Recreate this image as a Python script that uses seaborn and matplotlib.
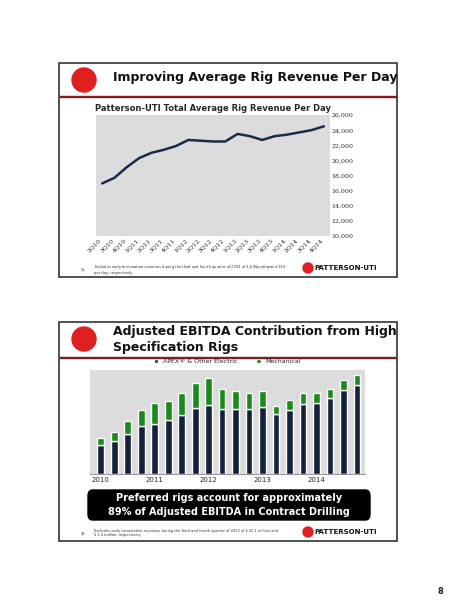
import matplotlib.pyplot as plt
import matplotlib.patches as mpatches
import seaborn as sns
import numpy as np

# Top chart: average rig revenue per day
quarters = ["2Q10", "3Q10", "4Q10", "1Q11", "2Q11", "3Q11", "4Q11", "1Q12", "2Q12", "3Q12",
            "4Q12", "1Q13", "2Q13", "3Q13", "4Q13", "1Q14", "2Q14", "3Q14", "4Q14"]
revenue = [16950, 17700, 19100, 20300, 21000, 21400, 21900, 22700, 22600, 22500,
           22500, 23500, 23200, 22700, 23200, 23400, 23700, 24000, 24500]

# Bottom chart: adjusted EBITDA (relative units)
apex = [87, 99, 119, 142, 149, 162, 177, 198, 207, 194,
        193, 193, 201, 179, 192, 210, 213, 228, 250, 264]
totals = [108, 124, 157, 192, 213, 218, 242, 272, 285, 254,
          248, 242, 246, 203, 222, 242, 242, 254, 281, 295]
mechanical = [t - a for t, a in zip(totals, apex)]
year_labels = ["2010", "2011", "2012", "2013", "2014"]

sns.set_style("white")
W, H = 453, 600
fig = plt.figure(figsize=(W / 100, H / 100), dpi=100)
fig.patch.set_facecolor("white")

def px(x, y, w, h):
    return [x / W, 1 - (y + h) / H, w / W, h / H]

def dot(x, y, r):
    fig.patches.append(mpatches.Ellipse((x / W, 1 - y / H), 2 * r / W, 2 * r / H,
                                        transform=fig.transFigure, color="#e02020"))

def slide(y0, y1, title_lines, title_y, line_y, foot, num):
    fig.patches.append(mpatches.Rectangle((59 / W, 1 - y1 / H), 338 / W, (y1 - y0) / H,
                                          transform=fig.transFigure, fill=False,
                                          edgecolor="#333333", lw=1.2))
    fig.patches.append(mpatches.Rectangle((60 / W, 1 - line_y / H), 336 / W, 1.2 / H,
                                          transform=fig.transFigure, color="#7a1f1f"))
    dot(84, title_y + 2 + (len(title_lines) - 1) * 6, 12)
    for i, t in enumerate(title_lines):
        fig.text(113 / W, 1 - (title_y + i * 17) / H, t, fontsize=9,
                 fontweight="bold", va="center", color="#111111")
    fig.text(94 / W, 1 - (y1 - 8) / H, foot, fontsize=2.6, color="#333333", va="center")
    fig.text(81 / W, 1 - (y1 - 7) / H, num, fontsize=2.6, color="#333333", va="center")
    fig.text(314 / W, 1 - (y1 - 9) / H, "PATTERSON-UTI", fontsize=5, fontweight="bold",
             va="center", color="#111111")
    dot(308, y1 - 9, 5)

slide(63, 277, ["Improving Average Rig Revenue Per Day"], 78, 97,
      "Excludes early termination revenues during the third and fourth quarter of 2013 of $ 3,600 per day and $ 130\nper day, respectively", "15")
slide(322, 541, ["Adjusted EBITDA Contribution from High", "Specification Rigs"], 331, 358,
      "Excludes early termination revenues during the third and fourth quarter of 2013 of $ 42.1 million and\n$ 2.4 million, respectively", "16")

# Top line chart
ax1 = fig.add_axes(px(96, 115, 234, 121))
ax1.set_facecolor("#dcdcdc")
sns.lineplot(x=np.arange(len(quarters)), y=revenue, ax=ax1, color="#1b2a47", lw=1.8)
ax1.set_ylim(10000, 26000)
ax1.set_yticks(range(10000, 26001, 2000))
ax1.set_yticklabels([f"{v:,}" for v in range(10000, 26001, 2000)], fontsize=4.5, family="serif")
ax1.yaxis.tick_right()
ax1.set_xlim(-0.5, len(quarters) - 0.5)
ax1.set_xticks(np.arange(len(quarters)))
ax1.set_xticklabels(quarters, rotation=45, fontsize=4.5, family="serif", ha="right")
ax1.tick_params(length=0, pad=1)
for s in ax1.spines.values():
    s.set_visible(False)
ax1.set_title("Patterson-UTI Total Average Rig Revenue Per Day", fontsize=6, fontweight="bold", pad=3)

# Bottom stacked bars
ax2 = fig.add_axes(px(90, 370, 275, 104))
ax2.set_facecolor("#dcdcdc")
xb = np.arange(len(apex))
sns.barplot(x=xb, y=apex, ax=ax2, color="#14213d", width=0.5, saturation=1,
            label="APEX® & Other Electric")
sns.barplot(x=xb, y=mechanical, bottom=apex, ax=ax2, color="#1a8a1a", width=0.5,
            saturation=1, label="Mechanical")
ax2.set_ylim(0, 310)
ax2.set_yticks([])
ax2.set_xticks(xb[::4])
ax2.set_xticklabels(year_labels, fontsize=5)
ax2.set_xlim(-0.8, len(apex) - 0.4)
ax2.tick_params(length=0, pad=2)
for s in ["top", "right", "left"]:
    ax2.spines[s].set_visible(False)
ax2.spines["bottom"].set_color("#999999")
ax2.legend(loc="lower center", bbox_to_anchor=(0.5, 1.0), ncol=2, frameon=False,
           fontsize=4.5, handlelength=0.7, handleheight=0.7, columnspacing=3)

fig.patches.append(mpatches.FancyBboxPatch((88 / W, 1 - 520 / H), 282 / W, 30 / H,
                                           boxstyle="round,pad=0.0,rounding_size=0.01",
                                           transform=fig.transFigure, color="black"))
fig.text(229 / W, 1 - 505 / H, "Preferred rigs account for approximately\n89% of Adjusted EBITDA in Contract Drilling",
         ha="center", va="center", color="white", fontsize=7, fontweight="bold", linespacing=1.4)

fig.text(440 / W, 1 - 591 / H, "8", fontsize=6, fontweight="bold", ha="center", va="center")

fig.savefig("out.png", dpi=100)
